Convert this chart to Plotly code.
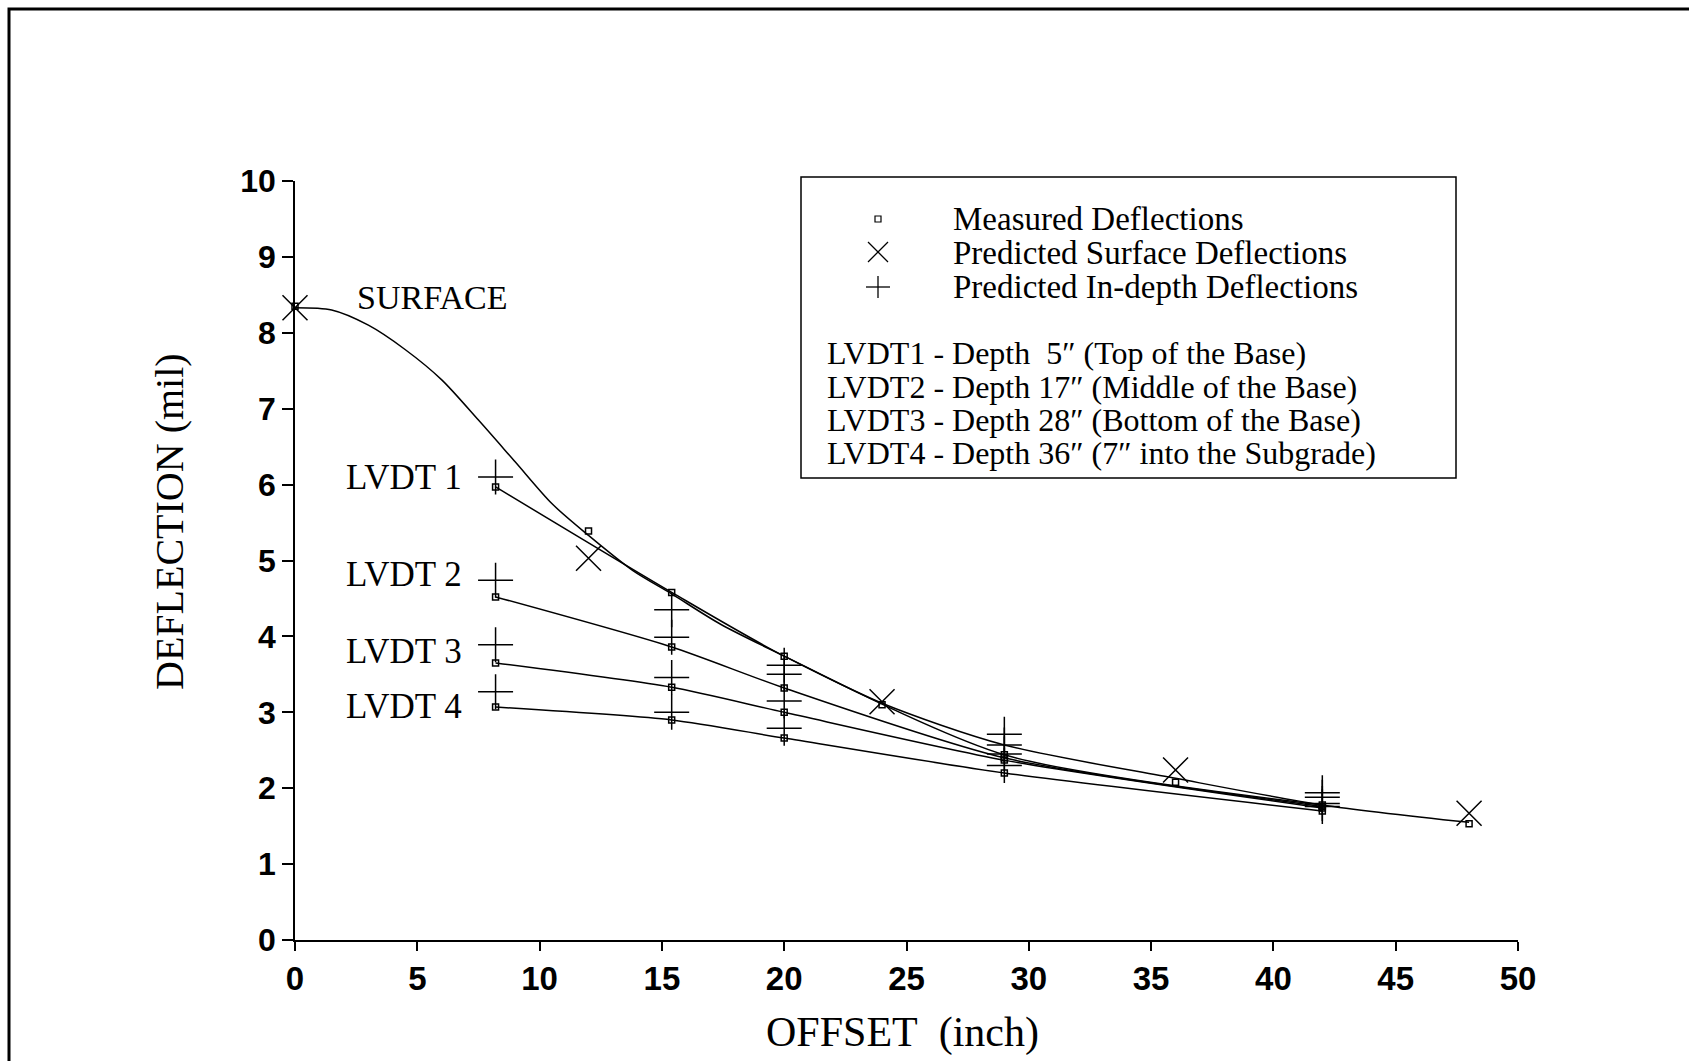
import plotly.graph_objects as go

# ---- data ---------------------------------------------------------------
# surface geophone offsets (inch) and deflections (mil)
surf_offset = [0, 12, 24, 36, 48]
surf_measured = [8.35, 5.39, 3.10, 2.08, 1.53]
surf_predicted = [8.33, 5.03, 3.14, 2.24, 1.67]

# fitted surface deflection basin
basin_offset = [0, 1.5, 3.0, 4.5, 6.0, 7.5, 9.0, 10.5, 12.0, 13.8, 15.4, 17.4, 20, 24, 29, 36, 42, 48]
basin_defl = [8.33, 8.30, 8.10, 7.78, 7.38, 6.85, 6.30, 5.75, 5.33, 4.87, 4.56, 4.16, 3.74, 3.12, 2.57, 2.13, 1.78, 1.55]

# in-depth LVDT offsets (inch)
lvdt_offset = [8.2, 15.4, 20, 29, 42]
lvdt_measured = {
    "LVDT 1": [5.97, 4.58, 3.74, 2.44, 1.78],
    "LVDT 2": [4.52, 3.86, 3.32, 2.40, 1.76],
    "LVDT 3": [3.65, 3.33, 3.00, 2.37, 1.74],
    "LVDT 4": [3.07, 2.90, 2.66, 2.20, 1.70],
}
lvdt_predicted = {
    "LVDT 1": [6.10, 4.35, 3.62, 2.71, 1.94],
    "LVDT 2": [4.74, 3.99, 3.50, 2.57, 1.88],
    "LVDT 3": [3.89, 3.46, 3.15, 2.45, 1.80],
    "LVDT 4": [3.27, 3.00, 2.79, 2.30, 1.76],
}

x_ticks = list(range(0, 51, 5))
y_ticks = list(range(0, 11, 1))

legend_items = ["Measured Deflections",
                "Predicted Surface Deflections",
                "Predicted In-depth Deflections"]
lvdt_notes = [
    "LVDT1 - Depth \u00a05\u2033 (Top of the Base)",
    "LVDT2 - Depth 17\u2033 (Middle of the Base)",
    "LVDT3 - Depth 28\u2033 (Bottom of the Base)",
    "LVDT4 - Depth 36\u2033 (7\u2033 into the Subgrade)",
]

# ---- page geometry (pixels) --------------------------------------------
W, H = 1689, 1061
ML, MR, MT, MB = 295, 171, 181, 121
PW, PH = W - ML - MR, H - MT - MB


def px(x):
    return (x - ML) / PW


def py(y):
    return (H - MB - y) / PH


SERIF = "Liberation Serif, Times New Roman, serif"
SANS = "Liberation Sans, Arial, sans-serif"
INK = "black"

fig = go.Figure()

# surface basin curve
fig.add_trace(go.Scatter(x=basin_offset, y=basin_defl, mode="lines",
                         line=dict(color=INK, width=1.5, shape="spline", smoothing=0.8),
                         hoverinfo="skip", showlegend=False))

# LVDT curves through measured values
for name, vals in lvdt_measured.items():
    fig.add_trace(go.Scatter(x=lvdt_offset, y=vals, mode="lines",
                             line=dict(color=INK, width=1.5, shape="spline", smoothing=0.7),
                             showlegend=False, name=name))


def sym(symbol, size):
    return dict(symbol=symbol, size=size, color=INK, line=dict(color=INK, width=1.5))


# predicted in-depth (+)
for name, vals in lvdt_predicted.items():
    fig.add_trace(go.Scatter(x=lvdt_offset, y=vals, mode="markers",
                             marker=sym("cross-thin-open", 25),
                             cliponaxis=False, showlegend=False, name=name))

# predicted surface (x)
fig.add_trace(go.Scatter(x=surf_offset, y=surf_predicted, mode="markers",
                         marker=sym("x-thin-open", 25),
                         cliponaxis=False, showlegend=False))

# measured (small squares)
for name, vals in lvdt_measured.items():
    fig.add_trace(go.Scatter(x=lvdt_offset, y=vals, mode="markers",
                             marker=sym("square-open", 6),
                             cliponaxis=False, showlegend=False, name=name))
fig.add_trace(go.Scatter(x=surf_offset, y=surf_measured, mode="markers",
                         marker=sym("square-open", 6),
                         cliponaxis=False, showlegend=False))

annotations = []
shapes = []

# curve labels
annotations.append(dict(x=px(355), y=py(297), xref="paper", yref="paper",
                        text="SURFACE", showarrow=False, xanchor="left", yanchor="middle",
                        font=dict(family=SERIF, size=34, color=INK)))
for name, ycen in zip(lvdt_measured.keys(), [477, 574, 651, 706]):
    annotations.append(dict(x=px(464), y=py(ycen), xref="paper", yref="paper",
                            text=name, showarrow=False, xanchor="right", yanchor="middle",
                            font=dict(family=SERIF, size=35, color=INK)))

# axis titles
annotations.append(dict(x=px(169), y=py(522), xref="paper", yref="paper",
                        text="DEFLECTION (mil)", textangle=-90, showarrow=False,
                        xanchor="center", yanchor="middle",
                        font=dict(family=SERIF, size=40, color=INK)))
annotations.append(dict(x=px(902), y=py(1032), xref="paper", yref="paper",
                        text="OFFSET\u00a0 (inch)", showarrow=False,
                        xanchor="center", yanchor="middle",
                        font=dict(family=SERIF, size=42, color=INK)))

# key box
shapes.append(dict(type="rect", xref="paper", yref="paper",
                   x0=px(801), x1=px(1456), y0=py(478), y1=py(177),
                   line=dict(color=INK, width=1.5), fillcolor="white", layer="below"))
for txt, ycen in zip(legend_items, [219, 253, 287]):
    annotations.append(dict(x=px(951), y=py(ycen), xref="paper", yref="paper",
                            text=txt, showarrow=False, xanchor="left", yanchor="middle",
                            font=dict(family=SERIF, size=33, color=INK)))
for txt, ycen in zip(lvdt_notes, [353, 387, 420, 453]):
    annotations.append(dict(x=px(825), y=py(ycen), xref="paper", yref="paper",
                            text=txt, showarrow=False, xanchor="left", yanchor="middle",
                            font=dict(family=SERIF, size=32, color=INK)))

# key symbols
kx = 878
shapes.append(dict(type="rect", xref="paper", yref="paper",
                   x0=px(kx - 3), x1=px(kx + 3), y0=py(219 + 3), y1=py(219 - 3),
                   line=dict(color=INK, width=1.2)))
for dx, dy in [(-10, -10), (-10, 10)]:
    shapes.append(dict(type="line", xref="paper", yref="paper",
                       x0=px(kx + dx), y0=py(252 + dy), x1=px(kx - dx), y1=py(252 - dy),
                       line=dict(color=INK, width=1.3)))
shapes.append(dict(type="line", xref="paper", yref="paper",
                   x0=px(kx - 12), y0=py(287), x1=px(kx + 12), y1=py(287),
                   line=dict(color=INK, width=1.3)))
shapes.append(dict(type="line", xref="paper", yref="paper",
                   x0=px(kx), y0=py(276), x1=px(kx), y1=py(298),
                   line=dict(color=INK, width=1.3)))

# page frame
shapes.append(dict(type="rect", xref="paper", yref="paper",
                   x0=px(9), x1=px(W + 20), y0=py(H + 20), y1=py(9),
                   line=dict(color=INK, width=3)))

fig.update_layout(
    width=W, height=H,
    margin=dict(l=ML, r=MR, t=MT, b=MB, pad=0),
    paper_bgcolor="white", plot_bgcolor="white",
    showlegend=False,
    annotations=annotations, shapes=shapes,
    xaxis=dict(range=[0, 50], tickvals=x_ticks, ticktext=[str(v) for v in x_ticks],
               showgrid=False, zeroline=False, showline=True, linecolor=INK, linewidth=1.5,
               ticks="outside", ticklen=9, tickwidth=1.5, tickcolor=INK,
               tickfont=dict(family=SANS, size=33, color=INK, weight="bold")),
    yaxis=dict(range=[0, 10], tickvals=y_ticks, ticktext=[str(v) for v in y_ticks],
               showgrid=False, zeroline=False, showline=True, linecolor=INK, linewidth=1.5,
               ticks="outside", ticklen=11, tickwidth=1.5, tickcolor=INK,
               tickfont=dict(family=SANS, size=32, color=INK, weight="bold")),
)

fig.write_html("out.html")
